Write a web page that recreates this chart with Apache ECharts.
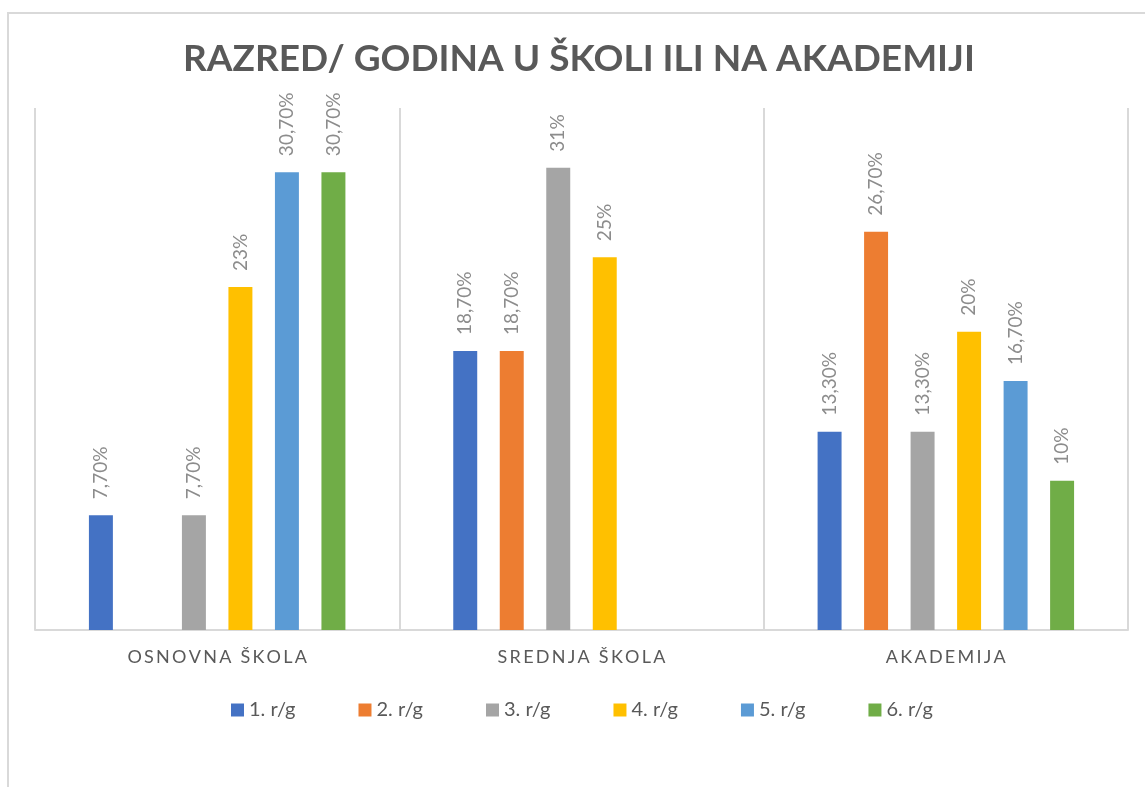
<!DOCTYPE html>
<html>
<head>
<meta charset="utf-8">
<script src="https://cdn.jsdelivr.net/npm/echarts@6/dist/echarts.min.js"></script>
<style>
  html, body { margin: 0; padding: 0; background: #fff; }
  #frame {
    position: absolute; left: 7px; top: 12px; width: 1138px; height: 775px;
    border-top: 2px solid #d9d9d9; border-left: 2px solid #d9d9d9;
  }
  #chart { position: absolute; left: 0; top: 0; width: 1145px; height: 787px; }
</style>
</head>
<body>
<div id="frame"></div>
<div id="chart"></div>
<script>
  // kategorije
  var categories = ['OSNOVNA ŠKOLA', 'SREDNJA ŠKOLA', 'AKADEMIJA'];
  var seriesNames = ['1. r/g', '2. r/g', '3. r/g', '4. r/g', '5. r/g', '6. r/g'];
  var colors = ['#4472C4', '#ED7D31', '#A5A5A5', '#FFC000', '#5B9BD5', '#70AD47'];

  // vrijednosti po razredu (null = nema stupca)
  var g1 = [7.7, 18.7, 13.3];
  var g2 = [null, 18.7, 26.7];
  var g3 = [7.7, 31, 13.3];
  var g4 = [23, 25, 20];
  var g5 = [30.7, null, 16.7];
  var g6 = [30.7, null, 10];
  var values = [g1, g2, g3, g4, g5, g6];

  // natpisi kao u originalu
  var labels = [
    ['7,70%', '18,70%', '13,30%'],
    ['', '18,70%', '26,70%'],
    ['7,70%', '31%', '13,30%'],
    ['23%', '25%', '20%'],
    ['30,70%', '', '16,70%'],
    ['30,70%', '', '10%']
  ];

  var FONT = 'Lato, "Open Sans", sans-serif';

  function spread(s) {
    return s.split('').join('\u2009');
  }

  var chart = echarts.init(document.getElementById('chart'));

  var series = values.map(function (v, i) {
    return {
      name: seriesNames[i],
      type: 'bar',
      data: v,
      barGap: '94%',
      barCategoryGap: '29.6%',
      itemStyle: { color: colors[i] },
      label: {
        show: true,
        position: 'top',
        rotate: 90,
        align: 'left',
        verticalAlign: 'middle',
        distance: 16,
        color: '#8c8c8c',
        fontSize: 19,
        fontFamily: FONT,
        formatter: function (p) { return labels[i][p.dataIndex]; }
      }
    };
  });

  var option = {
    animation: false,
    title: {
      text: 'RAZRED/ GODINA U ŠKOLI ILI NA AKADEMIJI',
      left: 178,
      top: 36,
      textStyle: { color: '#595959', fontSize: 37, fontWeight: 'bold', fontFamily: FONT }
    },
    legend: {
      data: seriesNames,
      left: 226,
      top: 695,
      icon: 'rect',
      itemWidth: 13,
      itemHeight: 13,
      itemGap: 63,
      textStyle: { color: '#595959', fontSize: 20, fontFamily: FONT }
    },
    grid: { left: 35, right: 17, top: 108, bottom: 157 },
    xAxis: {
      type: 'category',
      data: categories,
      axisLine: { lineStyle: { color: '#d9d9d9', width: 2 } },
      axisTick: { show: false },
      splitLine: { show: true, lineStyle: { color: '#d9d9d9', width: 2 } },
      axisLabel: {
        color: '#595959', fontSize: 18, fontFamily: FONT, margin: 18,
        formatter: spread
      }
    },
    yAxis: {
      type: 'value',
      min: 0,
      max: 35,
      show: false,
      splitLine: { show: false }
    },
    series: series
  };

  chart.setOption(option);
</script>
</body>
</html>
